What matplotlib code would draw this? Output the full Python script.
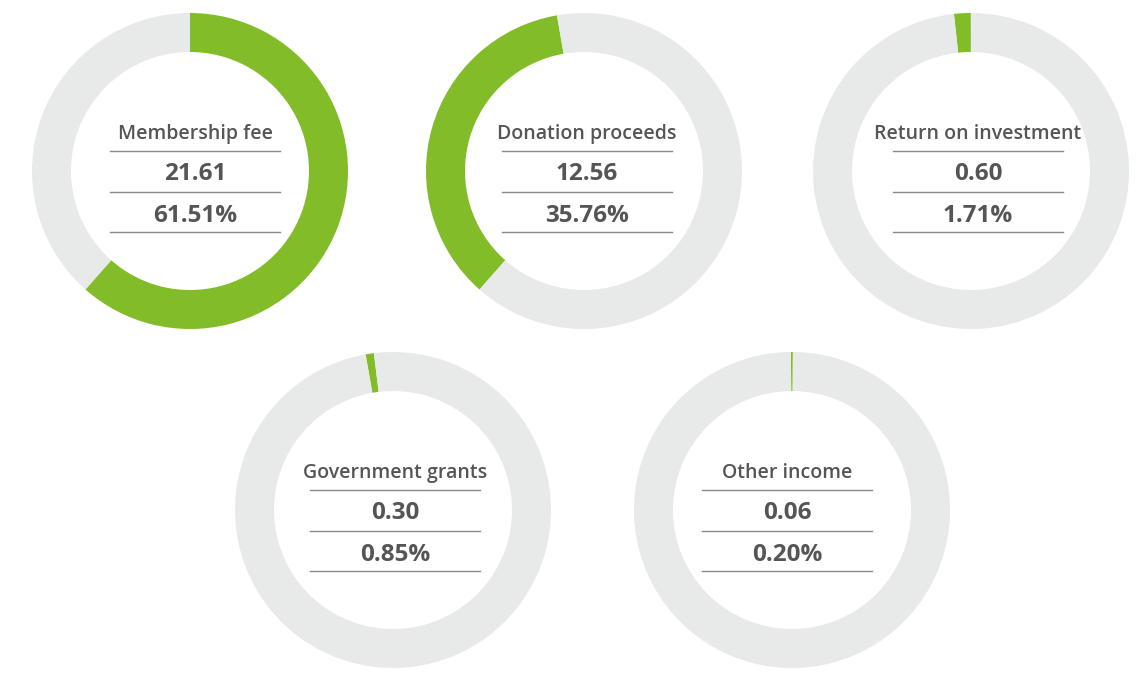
import matplotlib.pyplot as plt

# data
labels = ["Membership fee", "Donation proceeds", "Return on investment",
          "Government grants", "Other income"]
amounts = [21.61, 12.56, 0.60, 0.30, 0.06]
shares = [61.51, 35.76, 1.71, 0.85, 0.20]

# layout (pixel coords, y from top)
centers = [(190, 171), (584, 171), (971, 171), (393, 510), (792, 510)]
text_x = [195, 587, 978, 395, 787]
green_start = [0, 221.4, 353.8, 350.0, 359.6]  # clockwise degrees from 12 o'clock

W, H = 1145, 673
GREEN = "#82bd29"
GREY = "#e8e9e9"
TXT = "#555555"
RULE = "#8a8a8a"

fig = plt.figure(figsize=(W / 100, H / 100), dpi=100)
ax = fig.add_axes([0, 0, 1, 1])

for i in range(len(labels)):
    cx, cy = centers[i]
    cy = H - cy
    ax.pie([shares[i], 100 - shares[i]], colors=[GREEN, GREY], center=(cx, cy),
           radius=158, startangle=90 - green_start[i], counterclock=False,
           wedgeprops=dict(width=39, linewidth=0), frame=False)

    tx = text_x[i]
    ax.text(tx, cy + 37, labels[i], ha="center", va="center", fontsize=14,
            color=TXT, family="Open Sans", fontweight="semibold")
    ax.text(tx, cy - 3, "%.2f" % amounts[i], ha="center", va="center", fontsize=17.5,
            color=TXT, family="Open Sans", fontweight="bold")
    ax.text(tx, cy - 45, "%.2f%%" % shares[i], ha="center", va="center", fontsize=17.5,
            color=TXT, family="Open Sans", fontweight="bold")
    for dy in [20, -21, -61]:
        ax.plot([tx - 85, tx + 85], [cy + dy, cy + dy], color=RULE, lw=1)

ax.set_xlim(0, W)
ax.set_ylim(0, H)
ax.set_aspect("equal")
ax.axis("off")
fig.savefig("out.png", dpi=100, facecolor="white")
